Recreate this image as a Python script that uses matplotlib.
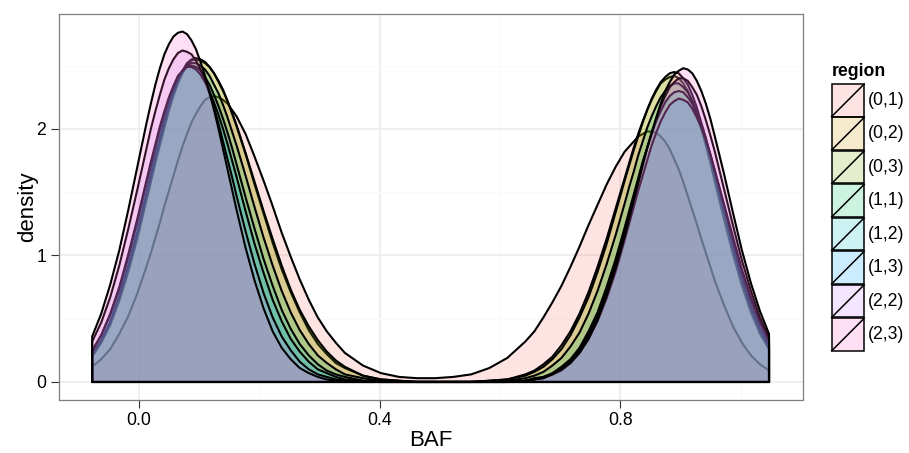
import matplotlib
matplotlib.use("Agg")
import matplotlib.pyplot as plt
from matplotlib.colors import to_rgba
from matplotlib.patches import Rectangle
from matplotlib.lines import Line2D

# ---------------- data ----------------
regions = ["(0,1)", "(0,2)", "(0,3)", "(1,1)", "(1,2)", "(1,3)", "(2,2)", "(2,3)"]
colors = ["#F8766D", "#CD9600", "#7CAE00", "#00BE67", "#00BFC4", "#00A9FF", "#C77CFF", "#FF61CC"]

# BAF positions where the curves were read (denser around the peaks)
baf = [-0.078, -0.063, -0.048, -0.033, -0.018, -0.003, 0.012,
       0.0195, 0.027, 0.0345, 0.042, 0.0495, 0.057, 0.0645, 0.072, 0.0795, 0.087,
       0.0945, 0.102, 0.1095, 0.117, 0.1245, 0.132, 0.1395, 0.147, 0.1545, 0.162,
       0.177, 0.192, 0.207, 0.222, 0.237, 0.252, 0.267, 0.282, 0.297, 0.312, 0.327, 0.342,
       0.372, 0.402, 0.432, 0.462, 0.492, 0.522, 0.552, 0.582, 0.612, 0.642,
       0.657, 0.672, 0.687, 0.702, 0.717, 0.732, 0.747, 0.762, 0.777, 0.792, 0.807,
       0.8145, 0.822, 0.8295, 0.837, 0.8445, 0.852, 0.8595, 0.867, 0.8745, 0.882,
       0.8895, 0.897, 0.9045, 0.912, 0.9195, 0.927, 0.9345, 0.942, 0.9495, 0.957,
       0.972, 0.987, 1.002, 1.017, 1.032, 1.047]

dens_01 = [0.12, 0.18, 0.26, 0.38, 0.52, 0.70, 0.91,
           1.02, 1.14, 1.26, 1.39, 1.51, 1.63, 1.75, 1.86, 1.96, 2.05, 2.12, 2.18, 2.23, 2.25,
           2.26, 2.25, 2.23, 2.20, 2.15, 2.10,
           1.96, 1.78, 1.59, 1.39, 1.18, 0.99, 0.81, 0.65, 0.51, 0.40, 0.31, 0.23,
           0.13, 0.07, 0.04, 0.03, 0.03, 0.04, 0.06, 0.11, 0.19, 0.32,
           0.40, 0.51, 0.63, 0.76, 0.91, 1.07, 1.24, 1.40, 1.56, 1.70, 1.82,
           1.86, 1.90, 1.94, 1.96, 1.98, 1.98, 1.97, 1.94, 1.90, 1.84, 1.76, 1.68, 1.58, 1.47,
           1.36, 1.25, 1.13, 1.02, 0.91, 0.80,
           0.61, 0.44, 0.31, 0.21, 0.14, 0.09]
dens_02 = [0.20, 0.31, 0.45, 0.64, 0.87, 1.13, 1.43, 1.58, 1.73, 1.87, 2.01, 2.14, 2.26, 2.36,
           2.44, 2.50, 2.54, 2.55, 2.54, 2.52, 2.49, 2.44,
           2.37, 2.30, 2.22, 2.12, 2.02, 1.80, 1.56, 1.33, 1.10, 0.89, 0.71, 0.55, 0.41, 0.30,
           0.22, 0.15, 0.11, 0.05, 0.02, 0.01, 0.0, 0.0,
           0.0, 0.0, 0.01, 0.02, 0.06, 0.09, 0.14, 0.20, 0.29, 0.40, 0.54, 0.71, 0.91, 1.13,
           1.37, 1.61, 1.73, 1.85, 1.96, 2.06, 2.15, 2.23,
           2.30, 2.36, 2.39, 2.41, 2.42, 2.40, 2.36, 2.30, 2.22, 2.11, 2.00, 1.87, 1.73, 1.58,
           1.29, 1.01, 0.76, 0.55, 0.38, 0.26]
dens_03 = [0.21, 0.32, 0.47, 0.66, 0.89, 1.16, 1.45, 1.60, 1.75, 1.90, 2.04, 2.17, 2.28, 2.38,
           2.46, 2.52, 2.55, 2.56, 2.55, 2.53, 2.49, 2.44,
           2.38, 2.31, 2.22, 2.13, 2.03, 1.81, 1.58, 1.35, 1.13, 0.92, 0.73, 0.57, 0.44, 0.33,
           0.24, 0.17, 0.12, 0.05, 0.02, 0.01, 0.0, 0.0,
           0.0, 0.0, 0.01, 0.02, 0.05, 0.08, 0.12, 0.18, 0.26, 0.37, 0.51, 0.67, 0.87, 1.09,
           1.34, 1.59, 1.71, 1.83, 1.94, 2.05, 2.15, 2.24,
           2.31, 2.37, 2.41, 2.44, 2.45, 2.44, 2.40, 2.35, 2.27, 2.17, 2.05, 1.93, 1.79, 1.64,
           1.35, 1.06, 0.80, 0.58, 0.41, 0.27]
dens_11 = [0.22, 0.33, 0.48, 0.68, 0.92, 1.19, 1.49, 1.64, 1.79, 1.93, 2.06, 2.19, 2.29, 2.38,
           2.45, 2.50, 2.52, 2.52, 2.50, 2.47, 2.42, 2.35,
           2.28, 2.19, 2.09, 1.98, 1.87, 1.63, 1.38, 1.14, 0.92, 0.72, 0.55, 0.41, 0.30, 0.21,
           0.15, 0.10, 0.06, 0.03, 0.01, 0.0, 0.0, 0.0,
           0.0, 0.0, 0.0, 0.01, 0.03, 0.05, 0.08, 0.13, 0.19, 0.28, 0.39, 0.54, 0.72, 0.93,
           1.16, 1.41, 1.54, 1.66, 1.79, 1.90, 2.01, 2.10,
           2.18, 2.25, 2.30, 2.34, 2.36, 2.36, 2.33, 2.29, 2.22, 2.13, 2.03, 1.91, 1.78, 1.64,
           1.36, 1.08, 0.82, 0.60, 0.42, 0.29]
dens_12 = [0.24, 0.37, 0.53, 0.73, 0.98, 1.26, 1.56, 1.70, 1.85, 1.99, 2.11, 2.23, 2.32, 2.40,
           2.46, 2.49, 2.50, 2.49, 2.46, 2.41, 2.35, 2.27,
           2.18, 2.08, 1.97, 1.85, 1.72, 1.46, 1.21, 0.97, 0.76, 0.57, 0.42, 0.30, 0.21, 0.14,
           0.09, 0.06, 0.04, 0.01, 0.0, 0.0, 0.0, 0.0,
           0.0, 0.0, 0.0, 0.0, 0.01, 0.03, 0.04, 0.07, 0.12, 0.18, 0.27, 0.40, 0.55, 0.75,
           0.97, 1.22, 1.35, 1.48, 1.61, 1.74, 1.85, 1.96,
           2.06, 2.14, 2.21, 2.26, 2.29, 2.30, 2.29, 2.25, 2.20, 2.12, 2.03, 1.92, 1.80, 1.67,
           1.40, 1.12, 0.86, 0.64, 0.46, 0.31]
dens_13 = [0.25, 0.37, 0.54, 0.75, 1.01, 1.29, 1.59, 1.74, 1.88, 2.02, 2.14, 2.25, 2.34, 2.42,
           2.46, 2.49, 2.49, 2.47, 2.43, 2.37, 2.30, 2.21,
           2.11, 2.00, 1.88, 1.75, 1.62, 1.35, 1.09, 0.86, 0.65, 0.48, 0.34, 0.24, 0.16, 0.10,
           0.07, 0.04, 0.02, 0.01, 0.0, 0.0, 0.0, 0.0,
           0.0, 0.0, 0.0, 0.0, 0.01, 0.02, 0.03, 0.06, 0.09, 0.15, 0.23, 0.34, 0.48, 0.66,
           0.87, 1.12, 1.25, 1.38, 1.51, 1.63, 1.75, 1.87,
           1.97, 2.06, 2.13, 2.19, 2.22, 2.24, 2.23, 2.21, 2.16, 2.09, 2.01, 1.91, 1.80, 1.67,
           1.41, 1.15, 0.89, 0.67, 0.48, 0.34]
dens_22 = [0.32, 0.47, 0.67, 0.92, 1.21, 1.52, 1.84,
           2.00, 2.14, 2.27, 2.39, 2.48, 2.55, 2.60, 2.62, 2.61, 2.59, 2.54, 2.47, 2.39, 2.28,
           2.17, 2.04, 1.90, 1.76, 1.62, 1.47,
           1.19, 0.93, 0.70, 0.51, 0.36, 0.25, 0.16, 0.10, 0.06, 0.04, 0.02, 0.01,
           0.0, 0.0, 0.0, 0.0, 0.0, 0.0, 0.0, 0.0, 0.0, 0.01,
           0.02, 0.04, 0.06, 0.11, 0.17, 0.25, 0.37, 0.52, 0.71, 0.93, 1.19,
           1.32, 1.46, 1.59, 1.73, 1.85, 1.97, 2.08, 2.18, 2.26, 2.33, 2.37, 2.40, 2.40, 2.38,
           2.33, 2.27, 2.18, 2.07, 1.95, 1.82,
           1.53, 1.24, 0.96, 0.72, 0.51, 0.35]
dens_23 = [0.36, 0.54, 0.77, 1.04, 1.36, 1.70, 2.04,
           2.20, 2.35, 2.48, 2.59, 2.67, 2.73, 2.76, 2.77, 2.75, 2.70, 2.63, 2.53, 2.42, 2.29,
           2.15, 2.00, 1.84, 1.68, 1.52, 1.36,
           1.06, 0.80, 0.58, 0.40, 0.27, 0.18, 0.11, 0.07, 0.04, 0.02, 0.01, 0.01,
           0.0, 0.0, 0.0, 0.0, 0.0, 0.0, 0.0, 0.0, 0.0, 0.01,
           0.02, 0.03, 0.06, 0.10, 0.15, 0.23, 0.34, 0.49, 0.68, 0.90, 1.15,
           1.29, 1.43, 1.57, 1.71, 1.85, 1.97, 2.09, 2.20, 2.30, 2.37, 2.43, 2.46, 2.48, 2.47,
           2.44, 2.38, 2.30, 2.20, 2.08, 1.94,
           1.65, 1.34, 1.04, 0.78, 0.56, 0.38]

densities = [dens_01, dens_02, dens_03, dens_11, dens_12, dens_13, dens_22, dens_23]

# ---------------- plot ----------------
plt.rcParams["font.family"] = ["Liberation Sans", "DejaVu Sans"]
W, H = 909, 453
fig = plt.figure(figsize=(W / 100, H / 100), dpi=100)
ax = fig.add_axes([58.5 / W, 1 - 399.5 / H, (802.7 - 58.5) / W, (399.5 - 14) / H])

# each region: filled polygon (closed down to 0) with black outline, drawn in order
for i, (d, c) in enumerate(zip(densities, colors)):
    px = [baf[0]] + baf + [baf[-1]]
    py = [0.0] + d + [0.0]
    ax.fill(px, py, facecolor=to_rgba(c, 0.2), edgecolor="black", lw=1.5,
            joinstyle="round", zorder=2 + i)

ax.set_xlim(-0.134, 1.103)
ax.set_ylim(-0.1385, 2.9085)
ax.set_xticks([0, 0.4, 0.8], ["0.0", "0.4", "0.8"])
ax.set_yticks([0, 1, 2], ["0", "1", "2"])
ax.set_xticks([0.2, 0.6, 1.0], minor=True)
ax.set_yticks([0.5, 1.5, 2.5], minor=True)
ax.grid(True, which="major", color="#EBEBEB", lw=1.1)
ax.grid(True, which="minor", color="#FAFAFA", lw=0.8)
ax.set_axisbelow(True)
ax.tick_params(which="major", length=5.8, width=0.8, color="#333333",
               labelsize=12.7, labelcolor="black", pad=3)
ax.tick_params(which="minor", length=0)
for sp in ax.spines.values():
    sp.set_color("#7F7F7F")
    sp.set_linewidth(0.9)

fig.text(430.6 / W, 1 - 441 / H, "BAF", ha="center", va="center", fontsize=16)
fig.text(28 / W, 1 - 206.8 / H, "density", ha="center", va="center", fontsize=16, rotation=90)

# legend: keys with a diagonal stroke, like ggplot's density keys
fig.text(831.7 / W, 1 - 71.5 / H, "region", ha="left", va="center",
         fontsize=12.7, fontweight="bold")
kx, kw, ky0, kp, kh = 831.7, 32.5, 84.0, 33.47, 32.5
for i, (r, c) in enumerate(zip(regions, colors)):
    top = ky0 + kp * i
    fig.patches.append(Rectangle((kx / W, 1 - (top + kh) / H), kw / W, kh / H,
                                 transform=fig.transFigure, facecolor=to_rgba(c, 0.2),
                                 edgecolor="black", lw=1.1))
    fig.lines.append(Line2D([kx / W, (kx + kw) / W], [1 - (top + kh) / H, 1 - top / H],
                            transform=fig.transFigure, color="black", lw=1.1))
    fig.text(868.3 / W, 1 - (top + kh / 2) / H, r, ha="left", va="center", fontsize=12.7)

fig.savefig("out.png", dpi=100)
